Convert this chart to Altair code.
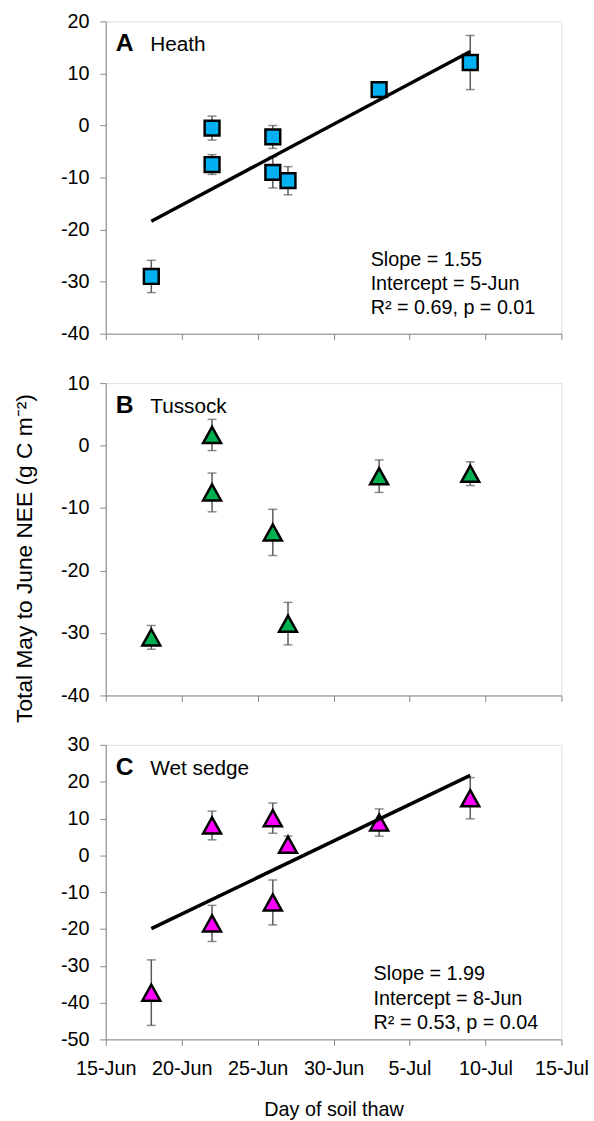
import altair as alt
import pandas as pd

FONT = "Liberation Sans"
GRAY = "#5a5a5a"

# ---------------- data ----------------
heath_dates = ["18-Jun", "22-Jun", "22-Jun", "26-Jun", "26-Jun", "27-Jun", "3-Jul", "9-Jul"]
heath_nee = [-29.0, -0.5, -7.5, -2.2, -9.0, -10.6, 6.9, 12.1]
heath_err = [3.1, 2.3, 1.9, 2.2, 3.0, 2.7, 1.0, 5.2]
heath_fit_dates = ["18-Jun", "9-Jul"]
heath_fit_nee = [-18.4, 14.2]
heath_stats = ["Slope = 1.55", "Intercept = 5-Jun", "R² = 0.69, p = 0.01"]

tussock_dates = ["18-Jun", "22-Jun", "22-Jun", "26-Jun", "27-Jun", "3-Jul", "9-Jul"]
tussock_nee = [-30.7, 1.7, -7.5, -13.9, -28.5, -4.9, -4.5]
tussock_err = [1.9, 2.5, 3.1, 3.7, 3.4, 2.6, 1.9]

sedge_dates = ["18-Jun", "22-Jun", "22-Jun", "26-Jun", "26-Jun", "27-Jun", "3-Jul", "9-Jul"]
sedge_nee = [-37.3, 8.1, -18.5, 10.1, -12.8, 2.9, 8.9, 15.5]
sedge_err = [8.9, 3.9, 4.9, 4.1, 6.1, 2.3, 3.7, 5.6]
sedge_fit_dates = ["18-Jun", "9-Jul"]
sedge_fit_nee = [-19.9, 21.7]
sedge_stats = ["Slope = 1.99", "Intercept = 8-Jun", "R² = 0.53, p = 0.04"]

x_tick_days = ["15-Jun", "20-Jun", "25-Jun", "30-Jun", "5-Jul", "10-Jul", "15-Jul"]


def day_num(s):
    d, m = s.split("-")
    return int(d) + (30 if m == "Jul" else 0)


X_TICKS = [day_num(d) for d in x_tick_days]
LABEL_EXPR = "datum.value <= 30 ? datum.value + '-Jun' : (datum.value - 30) + '-Jul'"
W = 461
TRI = "M0,-0.9L1,0.9L-1,0.9Z"


def panel(dates, nee, err, ydom, ystep, height, shape, size, fill, letter, name,
          fit=None, stats=None, stats_pos=None, bottom=False, ytitle=False):
    df = pd.DataFrame({"day": [day_num(d) for d in dates], "nee": nee, "err": err})
    df["lo"] = df["nee"] - df["err"]
    df["hi"] = df["nee"] + df["err"]

    xkw = dict(values=X_TICKS, labels=bottom, labelExpr=LABEL_EXPR, tickSize=6,
               labelPadding=14, labelFontSize=20, labelOverlap=False, labelFlush=False,
               grid=False)
    if bottom:
        xkw.update(title="Day of soil thaw", titleFontSize=20, titleFontWeight="normal",
                   titlePadding=21)
    else:
        xkw.update(title=None)
    xscale = alt.Scale(domain=[15, 45], nice=False, zero=False)
    xaxis = alt.Axis(**xkw)

    yvals = list(range(ydom[0], ydom[1] + 1, ystep))
    ykw = dict(values=yvals, tickSize=6, labelPadding=11, labelFontSize=20,
               labelOverlap=False, labelExpr="'' + datum.value", grid=False)
    if ytitle:
        ykw.update(title="Total May to June NEE (g C m⁻²)", titleFontSize=23,
                   titleFontWeight="normal", titleX=-82, titleY=177,
                   titleAlign="center", titleBaseline="middle", titleAngle=270)
    else:
        ykw.update(title=None)
    yscale = alt.Scale(domain=list(ydom), nice=False, zero=False)
    yaxis = alt.Axis(**ykw)

    def X(f):
        return alt.X(f, scale=xscale, axis=xaxis)

    def Y(f):
        return alt.Y(f, scale=yscale, axis=yaxis)

    base = alt.Chart(df)
    rule = base.mark_rule(color=GRAY, strokeWidth=1.5).encode(
        x=X("day:Q"), y=Y("lo:Q"), y2="hi:Q")
    cap_lo = base.mark_tick(color=GRAY, orient="horizontal", size=9, thickness=1.5).encode(
        x=X("day:Q"), y=Y("lo:Q"))
    cap_hi = base.mark_tick(color=GRAY, orient="horizontal", size=9, thickness=1.5).encode(
        x=X("day:Q"), y=Y("hi:Q"))
    pts = base.mark_point(shape=shape, filled=True, fill=fill, stroke="black",
                          strokeWidth=2.5, size=size, opacity=1).encode(
        x=X("day:Q"), y=Y("nee:Q"))
    layers = [rule, cap_lo, cap_hi, pts]

    if fit is not None:
        fdf = pd.DataFrame({"day": [day_num(d) for d in fit[0]], "nee": fit[1]})
        layers.append(alt.Chart(fdf).mark_line(color="black", strokeWidth=3.5).encode(
            x=X("day:Q"), y=Y("nee:Q")))

    layers.append(alt.Chart(pd.DataFrame({"t": [letter]})).mark_text(
        font=FONT, fontSize=25, fontWeight="bold", align="left", baseline="alphabetic",
        color="black").encode(x=alt.value(10), y=alt.value(30), text="t:N"))
    layers.append(alt.Chart(pd.DataFrame({"t": [name]})).mark_text(
        font=FONT, fontSize=21, align="left", baseline="alphabetic",
        color="black").encode(x=alt.value(45), y=alt.value(30), text="t:N"))

    if stats is not None:
        sdf = pd.DataFrame({"t": stats, "i": list(range(len(stats)))})
        layers.append(alt.Chart(sdf).mark_text(
            font=FONT, fontSize=20, align="left", baseline="alphabetic",
            color="black").transform_calculate(
            py=f"{stats_pos[1]} + datum.i * 24.7").encode(
            x=alt.value(stats_pos[0]), y=alt.Y("py:Q", scale=None), text="t:N"))

    return alt.layer(*layers).properties(width=W, height=height)


pA = panel(heath_dates, heath_nee, heath_err, (-40, 20), 10, 316, "square", 225,
           "#00B0F0", "A", "Heath", fit=(heath_fit_dates, heath_fit_nee),
           stats=heath_stats, stats_pos=(268, 247))
pB = panel(tussock_dates, tussock_nee, tussock_err, (-40, 10), 10, 316, TRI, 330,
           "#00B050", "B", "Tussock", ytitle=True)
pC = panel(sedge_dates, sedge_nee, sedge_err, (-50, 30), 10, 298, TRI, 330,
           "#FF00FF", "C", "Wet sedge", fit=(sedge_fit_dates, sedge_fit_nee),
           stats=sedge_stats, stats_pos=(271, 238), bottom=True)

chart = alt.vconcat(pA, pB, pC, spacing=50, bounds="flush").resolve_scale(
    x="independent", y="independent").properties(
    padding={"left": 13, "top": 4, "right": 5, "bottom": 0}
).configure_view(stroke="black", strokeWidth=1.5).configure_axis(
    domainColor="black", domainWidth=1.5, tickColor="black", tickWidth=1.5,
    labelFont=FONT, labelColor="black", titleFont=FONT, titleColor="black",
    labelOverlap=False
).configure(background="white")

chart.save("out.html", embed_options={"renderer": "svg", "actions": False})
